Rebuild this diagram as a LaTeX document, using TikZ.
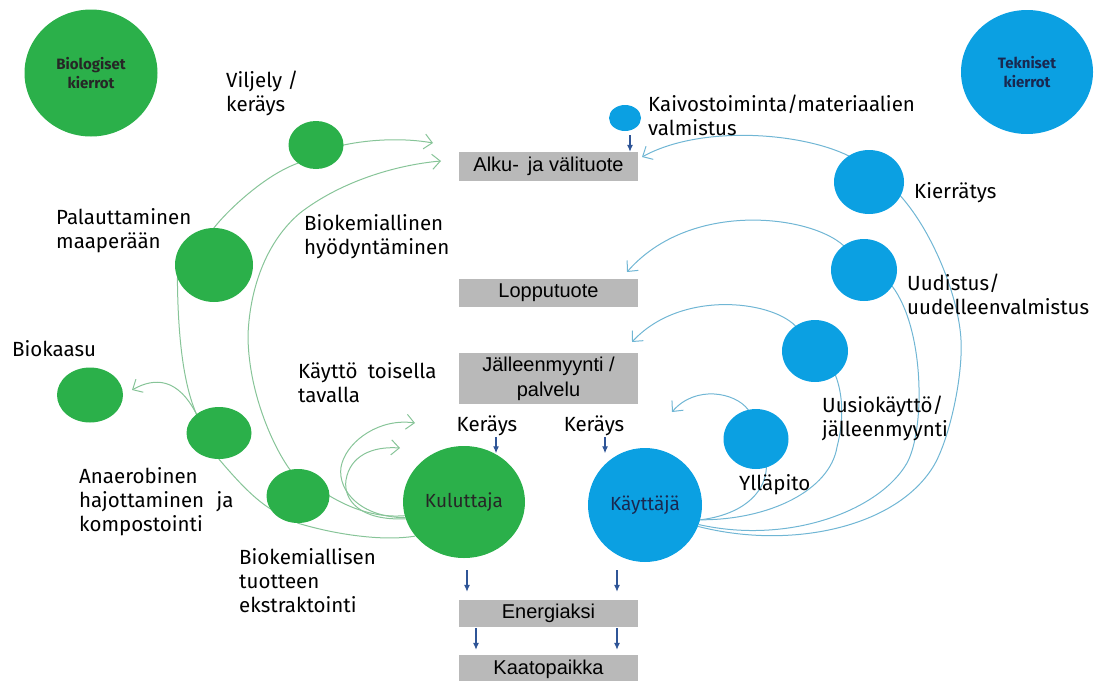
\documentclass[tikz,border=0pt]{standalone}
\usepackage{fontspec}
\setmainfont{Fira Sans}
\newfontfamily\boxfont{Liberation Sans}
\usetikzlibrary{arrows.meta,shapes.geometric}
\pgfdeclarelayer{bg}
\pgfsetlayers{bg,main}
\definecolor{cgreen}{RGB}{43,176,74}
\definecolor{cblue}{RGB}{11,160,226}
\definecolor{lgreen}{RGB}{135,196,152}
\definecolor{lblue}{RGB}{112,182,212}
\definecolor{dblue}{RGB}{47,85,151}
\definecolor{boxgray}{RGB}{185,185,185}
\definecolor{navy}{RGB}{25,40,80}
\begin{document}
\begin{tikzpicture}[x=1pt,y=-1pt,
  gdot/.style={ellipse, fill=cgreen, inner sep=0pt, align=center},
  bdot/.style={ellipse, fill=cblue, inner sep=0pt, align=center},
  lbl/.style={font=\fontsize{20.5}{24}\selectfont, align=left, anchor=west, inner sep=0pt, text=black},
  gbox/.style={fill=boxgray, minimum width=179pt, inner sep=0pt, font=\boxfont\fontsize{20}{25}\selectfont, align=center},
  gline/.style={draw=lgreen, line width=1pt},
  bline/.style={draw=lblue, line width=1pt},
  barb/.style={-{Straight Barb[length=8pt,width=15pt]}},
  darr/.style={draw=dblue, line width=1.1pt, -{Latex[length=7pt,width=6pt]}},
]
\useasboundingbox (0,0) rectangle (1094,680);
% big legend circles
\node[gdot, minimum width=133pt, minimum height=127pt, font=\bfseries\fontsize{15}{19}\selectfont, text=black!85] (bio) at (91,73) {Biologiset\\kierrot};
\node[bdot, minimum width=132pt, minimum height=124pt, font=\bfseries\fontsize{15}{19}\selectfont, text=navy] (tek) at (1027,72) {Tekniset\\kierrot};
% green circles
\node[gdot, minimum width=55pt, minimum height=48pt] (vil) at (316,145) {};
\node[gdot, minimum width=78pt, minimum height=74pt] (pal) at (214,265) {};
\node[gdot, minimum width=66pt, minimum height=55pt] (bkaa) at (90,395) {};
\node[gdot, minimum width=65pt, minimum height=52pt] (ana) at (219,433) {};
\node[gdot, minimum width=63pt, minimum height=54pt] (bex) at (298,496) {};
\node[gdot, minimum width=122pt, minimum height=112pt, font=\fontsize{19}{22}\selectfont, text=black!85] (kul) at (464,502) {Kuluttaja};
% blue circles
\node[bdot, minimum width=32pt, minimum height=26pt] (kaiv) at (625,118) {};
\node[bdot, minimum width=70pt, minimum height=64pt] (kier) at (869,182) {};
\node[bdot, minimum width=66pt, minimum height=62pt] (uud) at (864,270) {};
\node[bdot, minimum width=66pt, minimum height=62pt] (uk) at (815,351) {};
\node[bdot, minimum width=65pt, minimum height=60pt] (yl) at (756,439) {};
\node[bdot, minimum width=114pt, minimum height=114pt, font=\fontsize{19}{22}\selectfont, text=navy] (kay) at (645,505) {Käyttäjä};
% gray boxes
\node[gbox, minimum height=29pt] (alku) at (548.5,166.5) {Alku-\hspace{0.45em}ja välituote};
\node[gbox, minimum height=28pt] (loppu) at (548.5,293) {Lopputuote};
\node[gbox, minimum height=51pt] (jalm) at (548.5,378.5) {Jälleenmyynti /\\palvelu};
\node[gbox, minimum height=27pt] (ener) at (548.5,613.5) {Energiaksi};
\node[gbox, minimum height=28pt] (kaato) at (548.5,669) {Kaatopaikka};
% labels
\node[lbl] (lvil) at (226,93) {Viljely /\\keräys};
\node[lbl] (lpal) at (56,231) {Palauttaminen\\maaperään};
\node[lbl] (lbh) at (304,237) {Biokemiallinen\\hyödyntäminen};
\node[lbl] (lbk) at (12,349) {Biokaasu};
\node[lbl] (lkt) at (298,383) {Käyttö\hspace{0.5em}toisella\\tavalla};
\node[lbl] (lana) at (79,502) {Anaerobinen\\hajottaminen\hspace{0.6em}ja\\kompostointi};
\node[lbl] (lbex) at (239,581) {Biokemiallisen\\tuotteen\\ekstraktointi};
\node[lbl] (lkaiv) at (648,115) {Kaivostoiminta/materiaalien\\valmistus};
\node[lbl] (lkier) at (914,193) {Kierrätys};
\node[lbl] (luud) at (907,294) {Uudistus/\\uudelleenvalmistus};
\node[lbl] (luk) at (822,418) {Uusiokäyttö/\\jälleenmyynti};
\node[lbl] (lyl) at (739,485) {Ylläpito};
\node[lbl, anchor=center] (kerL) at (487,426) {Keräys};
\node[lbl, anchor=center] (kerR) at (594,426) {Keräys};
% arrow tips
\coordinate (g1tip) at (433,143);
\coordinate (g2tip) at (441,161);
\coordinate (kttip1) at (415,423);
\coordinate (kttip2) at (400,448);
\coordinate (bktip) at (132,390);
\coordinate (b1tip) at (642,157);
\coordinate (b2tip) at (627,272);
\coordinate (b3tip) at (632,342);
\coordinate (b4tip) at (672,412);
\begin{pgfonlayer}{bg}
% green cycle
\draw[gline,barb] (kul.215) .. controls (380,542) and (330,533) .. (bex.south) -- (bex.204)
  .. controls (252,497) and (235,478) .. (ana.south) -- (ana.140)
  .. controls (186,390) and (178,350) .. (pal.200) -- (pal.north)
  .. controls (228,210) and (265,175) .. (vil.225) -- (vil.east)
  .. controls (372,139) and (405,138) .. (g1tip);
\draw[gline,barb] (kul.193) .. controls (375,518) and (350,508) .. (bex.east) -- (bex.107)
  .. controls (272,445) and (248,390) .. (248,335)
  .. controls (250,285) and (268,240) .. (300,213)
  .. controls (340,182) and (395,165) .. (g2tip);
\draw[gline,barb] (kul.195) .. controls (355,517) and (335,485) .. (342,463)
  .. controls (349,440) and (380,418) .. (kttip1);
\draw[gline,barb] (kul.196) .. controls (360,521) and (343,500) .. (346,480)
  .. controls (350,456) and (372,446) .. (kttip2);
\draw[gline,barb] (ana.140) .. controls (178,378) and (155,377) .. (bktip);
% blue cycle
\draw[bline,barb] (kay.-22) .. controls (790,550) and (895,528) .. (933,467)
  .. controls (948,443) and (963,380) .. (961,340)
  .. controls (959,300) and (935,235) .. (kier.-24) -- (kier.128)
  .. controls (800,132) and (700,125) .. (b1tip);
\draw[bline,barb] (kay.-20) .. controls (790,545) and (880,510) .. (907,463)
  .. controls (925,430) and (925,330) .. (uud.-30) -- (uud.130)
  .. controls (810,215) and (690,200) .. (b2tip);
\draw[bline,barb] (kay.-15) .. controls (770,520) and (830,490) .. (837,447)
  .. controls (844,420) and (843,395) .. (uk.-50) -- (uk.128)
  .. controls (770,300) and (680,290) .. (b3tip);
\draw[bline,barb] (kay.-15) .. controls (740,515) and (765,495) .. (yl.-70) -- (yl.105)
  .. controls (735,392) and (695,385) .. (b4tip);
\end{pgfonlayer}
% small dark arrows
\draw[darr, shorten <=4pt] ([xshift=5pt]kaiv.south) -- ([xshift=5pt]kaiv.south |- alku.north);
\draw[darr, shorten <=1pt] ([xshift=9pt]kerL.south) -- ++(0,17);
\draw[darr, shorten <=1pt] ([xshift=11pt]kerR.south) -- ++(0,17);
\draw[darr, shorten <=12pt, shorten >=8pt] ([xshift=3pt]kul.south) -- ([xshift=3pt]kul.south |- ener.north);
\draw[darr, shorten <=8pt, shorten >=8pt] ([xshift=-28pt]kay.south) -- ([xshift=-28pt]kay.south |- ener.north);
\draw[darr, shorten <=1pt, shorten >=5pt] ([xshift=-72.5pt]ener.south) -- ([xshift=-72.5pt]ener.south |- kaato.north);
\draw[darr, shorten <=1pt, shorten >=5pt] ([xshift=68.5pt]ener.south) -- ([xshift=68.5pt]ener.south |- kaato.north);
\end{tikzpicture}
\end{document}
